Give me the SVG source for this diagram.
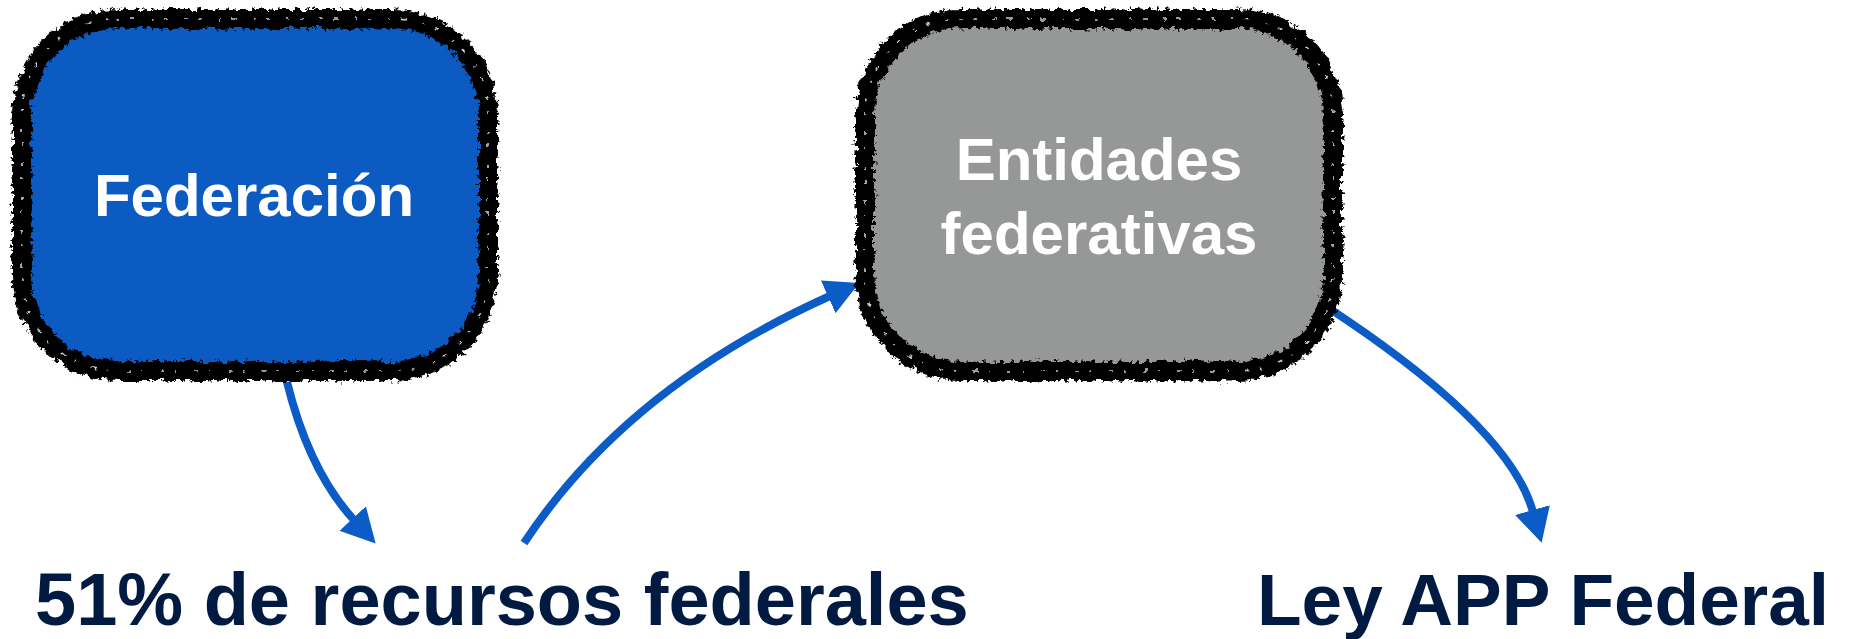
<svg xmlns="http://www.w3.org/2000/svg" width="1853" height="639" viewBox="0 0 1853 639">
  <style>
    .label { font-family: "Liberation Sans", Arial, sans-serif; font-weight: bold; fill: #ffffff; font-size: 60px; text-anchor: middle; }
    .caption { font-family: "Liberation Sans", Arial, sans-serif; font-weight: bold; fill: #001a42; }
    .border { fill: none; stroke: #000000; stroke-width: 18; filter: url(#rough); }
    .fringe { fill: none; stroke: #000000; stroke-width: 21; stroke-dasharray: 3 5 2 7 4 6; filter: url(#rough3); }
    .speck { fill: none; stroke: #ffffff; stroke-width: 1.6; stroke-dasharray: 2 11 4 17; filter: url(#rough2); opacity: 0.8; }
    .conn { fill: none; stroke: #0b5cc6; stroke-width: 8; marker-end: url(#head); }
  </style>
  <defs>
    <filter id="rough" x="-10%" y="-10%" width="120%" height="120%">
      <feTurbulence type="fractalNoise" baseFrequency="0.09" numOctaves="3" seed="4" result="n"/>
      <feDisplacementMap in="SourceGraphic" in2="n" scale="9" xChannelSelector="R" yChannelSelector="G"/>
    </filter>
    <filter id="rough2" x="-10%" y="-10%" width="120%" height="120%">
      <feTurbulence type="fractalNoise" baseFrequency="0.2" numOctaves="2" seed="9" result="n"/>
      <feDisplacementMap in="SourceGraphic" in2="n" scale="6" xChannelSelector="R" yChannelSelector="G"/>
    </filter>
    <filter id="rough3" x="-10%" y="-10%" width="120%" height="120%">
      <feTurbulence type="fractalNoise" baseFrequency="0.3" numOctaves="2" seed="2" result="n"/>
      <feDisplacementMap in="SourceGraphic" in2="n" scale="8" xChannelSelector="R" yChannelSelector="G"/>
    </filter>
    <marker id="head" viewBox="0 0 34 36" refX="2" refY="18" markerWidth="34" markerHeight="36" markerUnits="userSpaceOnUse" orient="auto">
      <path d="M0,0 L34,18 L0,36 Z" fill="#0b5cc6"/>
    </marker>
  </defs>

  <g id="connectors">
    <path class="conn" d="M287,382 Q309,471 354,520"/>
    <path class="conn" d="M524,543 Q627,387 830,296"/>
    <path class="conn" d="M1327,307 Q1509,426 1533,512"/>
  </g>

  <g id="federacion">
    <rect x="22" y="19" width="466" height="352" rx="95" ry="95" fill="#0b5bc3"/>
    <rect class="fringe" x="22" y="19" width="466" height="352" rx="95" ry="95"/>
    <rect class="border" x="22" y="19" width="466" height="352" rx="95" ry="95"/>
    <rect class="speck" x="22" y="19" width="466" height="352" rx="95" ry="95"/>
    <text class="label" x="254" y="216">Federación</text>
  </g>

  <g id="entidades">
    <rect x="865" y="19" width="468" height="352" rx="95" ry="95" fill="#959897"/>
    <rect class="fringe" x="865" y="19" width="468" height="352" rx="95" ry="95"/>
    <rect class="border" x="865" y="19" width="468" height="352" rx="95" ry="95"/>
    <rect class="speck" x="865" y="19" width="468" height="352" rx="95" ry="95"/>
    <text class="label" x="1099" y="180">Entidades</text>
    <text class="label" x="1099" y="254">federativas</text>
  </g>

  <g id="recursos">
    <text class="caption" x="35" y="625" font-size="74">51% de recursos federales</text>
  </g>

  <g id="ley">
    <text class="caption" x="1257" y="625" font-size="73">Ley APP Federal</text>
  </g>
</svg>
